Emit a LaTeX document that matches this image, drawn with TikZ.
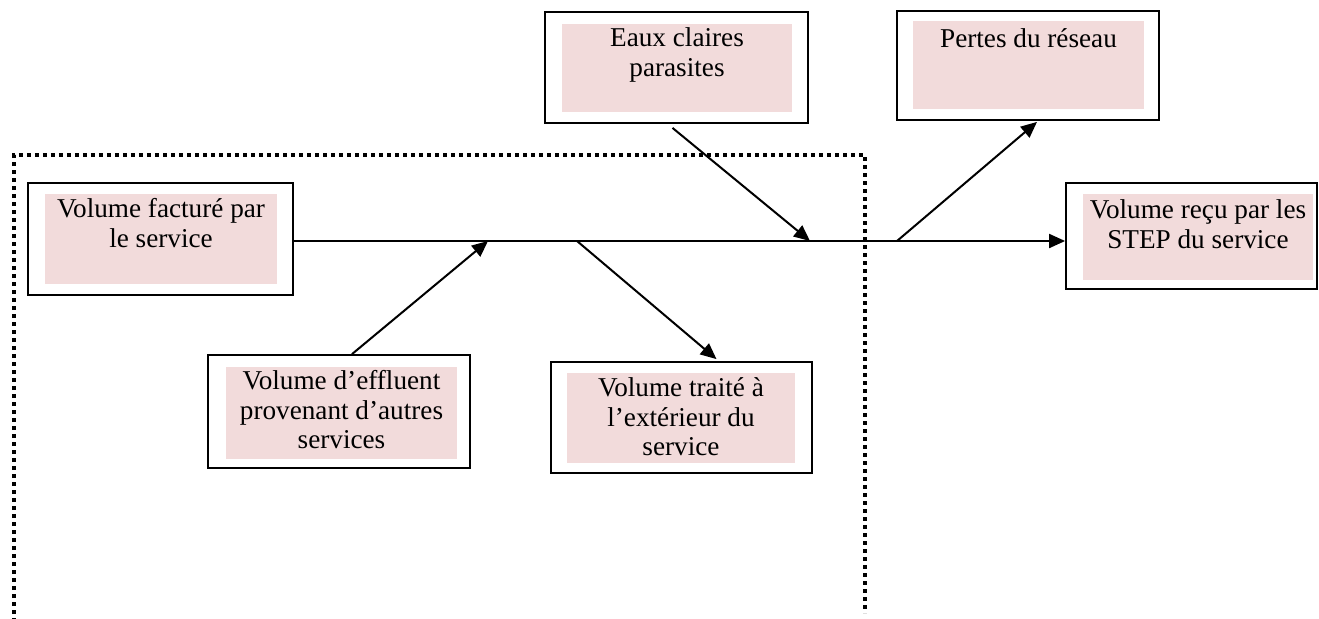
\documentclass[tikz,border=0pt]{standalone}
\usepackage{fontspec}
\setmainfont{Liberation Serif}
\usetikzlibrary{arrows.meta,calc}
\definecolor{pinkbg}{HTML}{F2DBDB}
\begin{document}
\begin{tikzpicture}[x=0.5pt,y=-0.5pt,
  outerbox/.style={draw=black, line width=0.9pt, inner sep=0pt, fill=white},
  pinkbox/.style={fill=pinkbg, draw=none, inner sep=0pt},
  boxtext/.style={font=\fontsize{13.6}{14.75}\selectfont, align=center, inner sep=0pt, anchor=north, execute at begin node=\strut},
  flow/.style={line width=1pt, -{Triangle[length=8pt,width=7pt]}},
  frameline/.style={line width=2pt, dash pattern=on 2pt off 2pt}]
\useasboundingbox (0,0) rectangle (1319,618);
% dotted frame
\draw[frameline] (14,622) -- (14,155) -- (865,155) -- (865,613);
% boxes
\node[outerbox, minimum width=132.5pt, minimum height=56pt] (fac) at (160.5,239) {};
\node[pinkbox, minimum width=116pt, minimum height=45pt] (facP) at (161,239) {};
\node[boxtext] (facT) at (161,198.35) {Volume facturé par\\le service};

\node[outerbox, minimum width=131.5pt, minimum height=55.5pt] (eaux) at (676.5,67.5) {};
\node[pinkbox, minimum width=115pt, minimum height=44pt] (eauxP) at (677,68) {};
\node[boxtext] (eauxT) at (677,27.35) {Eaux claires\\parasites};

\node[outerbox, minimum width=131pt, minimum height=54.5pt] (per) at (1028,65.5) {};
\node[pinkbox, minimum width=115.5pt, minimum height=44pt] (perP) at (1028.5,65) {};
\node[boxtext] (perT) at (1028.5,26.35) {Pertes du réseau};

\node[outerbox, minimum width=125.5pt, minimum height=53pt] (step) at (1191.5,236) {};
\node[pinkbox, minimum width=115pt, minimum height=43pt] (stepP) at (1198,237) {};
\node[boxtext] (stepT) at (1198,199.35) {Volume reçu par les\\STEP du service};

\node[outerbox, minimum width=131pt, minimum height=56.5pt] (eff) at (339,411.5) {};
\node[pinkbox, minimum width=115.5pt, minimum height=46pt] (effP) at (341.5,413) {};
\node[boxtext] (effT) at (341.5,370.35) {Volume d’effluent\\provenant d’autres\\services};

\node[outerbox, minimum width=130.5pt, minimum height=55.5pt] (tr) at (681.5,417.5) {};
\node[pinkbox, minimum width=114pt, minimum height=45pt] (trP) at (681,418) {};
\node[boxtext] (trT) at (681,377.35) {Volume traité à\\l’extérieur du\\service};

% junctions on the main line
\coordinate (jEff) at (488,241);
\coordinate (jTr) at (577,241);
\coordinate (jEaux) at (810,241);
\coordinate (jPer) at (897,241);

% connectors
\draw[flow] (fac.east |- jEff) -- (step.west |- jEff);
\draw[flow] ($(eff.north)+(13,0)$) -- (jEff);
\draw[flow] (jTr) -- ($(tr.north)+(35,-2)$);
\draw[flow] ($(eaux.south)+(-4,4)$) -- (jEaux);
\draw[flow] (jPer) -- ($(per.south)+(9,1)$);
\end{tikzpicture}
\end{document}
